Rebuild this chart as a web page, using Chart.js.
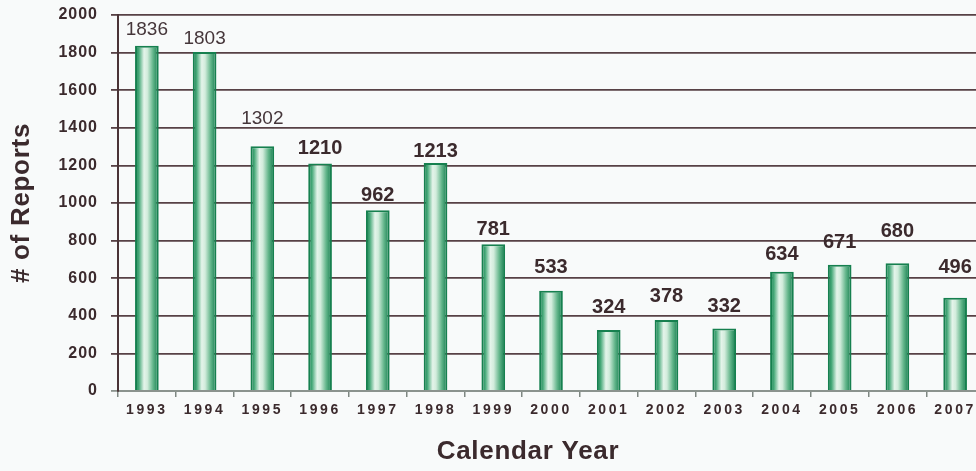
<!DOCTYPE html>
<html>
<head>
<meta charset="utf-8">
<script src="https://cdn.jsdelivr.net/npm/chart.js@4.4.1/dist/chart.umd.min.js"></script>
<style>
  html, body { margin: 0; padding: 0; background: #f8fafa; overflow: hidden; }
  #wrap { width: 976px; height: 471px; overflow: hidden; position: relative; }
  canvas { display: block; }
</style>
</head>
<body>
<div id="wrap"><canvas id="c" width="990" height="471"></canvas></div>
<script>
// ---- data ----
const years = ['1993','1994','1995','1996','1997','1998','1999','2000','2001','2002','2003','2004','2005','2006','2007'];
const reports = [1836, 1803, 1302, 1210, 962, 1213, 781, 533, 324, 378, 332, 634, 671, 680, 496];
const yTicks = [0, 200, 400, 600, 800, 1000, 1200, 1400, 1600, 1800, 2000];
const yTitle = '# of Reports';
const xTitle = 'Calendar Year';

// ---- styling (kept apart from data) ----
const FONT = "'Liberation Sans', Arial, sans-serif";
const TEXT = '#3b2a2d';
const BAR_PCT = 0.41;
const labelGap = [11, 8, 22, 10, 9, 6, 9, 18, 17, 18, 17, 12, 17, 26, 25];
const lightLabels = [0, 1, 2];

const ctx0 = document.getElementById('c').getContext('2d');
const spacingBySize = { '14px': '2.6px', '16px': '1px', '26px': '0.7px' };
const origFill = ctx0.fillText.bind(ctx0);
ctx0.fillText = function (text, x, y, maxWidth) {
  let sp = '0px';
  for (const k in spacingBySize) { if (this.font.indexOf(k) !== -1) sp = spacingBySize[k]; }
  const prev = this.letterSpacing;
  try { this.letterSpacing = sp; } catch (e) {}
  if (maxWidth === undefined) origFill(text, x, y); else origFill(text, x, y, maxWidth);
  try { this.letterSpacing = prev || '0px'; } catch (e) {}
};

function barGradient(context) {
  const chart = context.chart;
  if (!chart.chartArea || !chart.scales.x) return '#8fcfae';
  const xs = chart.scales.x;
  const c = xs.getPixelForValue(context.dataIndex);
  const w = (xs.width / years.length) * BAR_PCT;
  const g = chart.ctx.createLinearGradient(c - w / 2, 0, c + w / 2, 0);
  g.addColorStop(0, '#127a4c');
  g.addColorStop(0.16, '#47a979');
  g.addColorStop(0.38, '#e4f4ea');
  g.addColorStop(0.52, '#d2ecdc');
  g.addColorStop(0.76, '#62b58a');
  g.addColorStop(1, '#127a4c');
  return g;
}

const valueLabels = {
  id: 'valueLabels',
  afterDatasetsDraw(chart) {
    const ctx = chart.ctx;
    const meta = chart.getDatasetMeta(0);
    ctx.save();
    ctx.textAlign = 'center';
    ctx.textBaseline = 'alphabetic';
    meta.data.forEach((bar, i) => {
      const light = lightLabels.includes(i);
      ctx.font = (light ? 'normal 19px ' : 'bold 20px ') + FONT;
      ctx.fillStyle = light ? '#45363a' : TEXT;
      ctx.fillText(String(reports[i]), bar.x, bar.y - labelGap[i]);
    });
    ctx.restore();
  }
};

const xTitlePlugin = {
  id: 'xTitle',
  afterDraw(chart) {
    const ctx = chart.ctx;
    ctx.save();
    ctx.font = 'bold 26px ' + FONT;
    ctx.fillStyle = TEXT;
    ctx.textAlign = 'center';
    ctx.textBaseline = 'middle';
    ctx.fillText(xTitle, 528, 452);
    ctx.restore();
  }
};

new Chart(ctx0, {
  type: 'bar',
  data: {
    labels: years,
    datasets: [{
      data: reports,
      backgroundColor: barGradient,
      borderColor: '#16804f',
      borderWidth: 2,
      borderSkipped: 'bottom',
      barPercentage: BAR_PCT,
      categoryPercentage: 1
    }]
  },
  options: {
    responsive: false,
    animation: false,
    devicePixelRatio: 1,
    layout: { padding: { top: 15, right: 6, left: 0, bottom: 0 } },
    plugins: { legend: { display: false }, tooltip: { enabled: false }, title: { display: false } },
    scales: {
      x: {
        afterFit(s) { s.height = 80; s.paddingLeft = 0; s.paddingRight = 0; },
        grid: { display: true, drawOnChartArea: false, drawTicks: true, tickLength: 6, color: '#7e8782', lineWidth: 1.5, offset: true },
        border: { display: true, color: '#8b938e', width: 2 },
        ticks: { color: TEXT, padding: 5, maxRotation: 0, autoSkip: false, font: { family: FONT, size: 14, weight: 'bold' } },
        title: { display: false }
      },
      y: {
        min: 0, max: 2000,
        afterFit(s) { s.width = 118; s.paddingTop = 0; s.paddingBottom = 0; },
        afterBuildTicks(s) { s.ticks = yTicks.map(v => ({ value: v })); },
        grid: {
          color: c => (c.tick && c.tick.value === 0) ? '#8b938e' : '#574145',
          lineWidth: 1.8,
          tickLength: 7,
          drawTicks: true
        },
        border: { display: true, color: '#4a3336', width: 2 },
        ticks: { color: TEXT, padding: 13, font: { family: FONT, size: 16, weight: 'bold' }, callback: v => String(v) },
        title: { display: true, text: yTitle, color: TEXT, padding: { top: 6.4, bottom: 0 }, font: { family: FONT, size: 26, weight: 'bold' } }
      }
    }
  },
  plugins: [valueLabels, xTitlePlugin]
});
</script>
</body>
</html>
